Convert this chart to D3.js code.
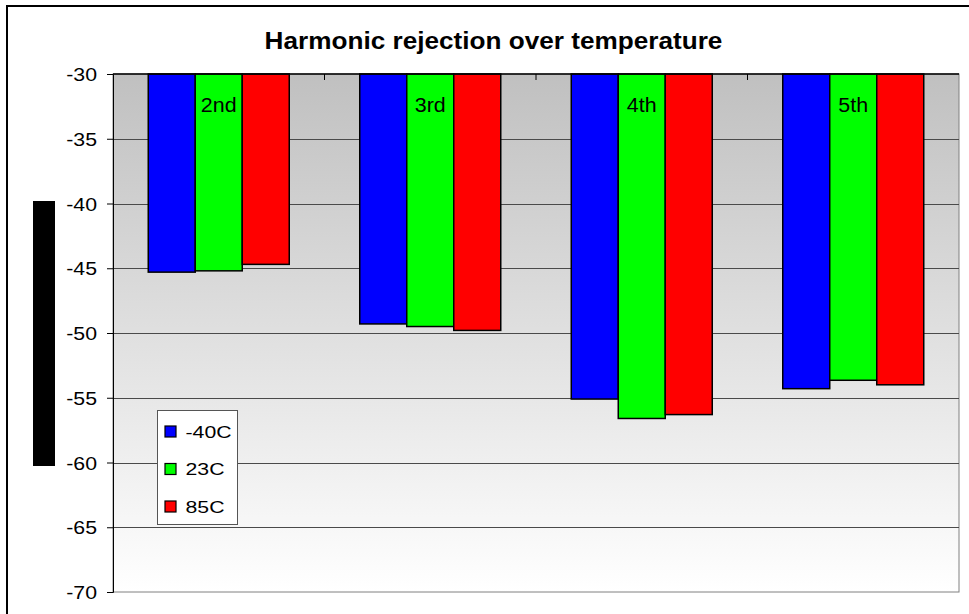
<!DOCTYPE html>
<html>
<head>
	<meta charset="utf-8">
	<script src="https://cdn.jsdelivr.net/npm/d3@7"></script>
	<style>
		html, body { margin: 0; padding: 0; background: white; }
		svg { display: block; font-family: Arial, "Liberation Sans", sans-serif; }
	</style>
</head>
<body>
	<div id="chart"></div>
	<script>
		// data
		var harmonics = ["2nd", "3rd", "4th", "5th"];
		var temps = ["-40C", "23C", "85C"];
		var tempColors = ["#0000ff", "#00ff00", "#ff0000"];
		var rejection = [
			[-45.3, -49.3, -55.1, -54.3],   // -40C
			[-45.2, -49.5, -56.6, -53.65],  // 23C
			[-44.7, -49.8, -56.3, -54.0]    // 85C
		];
		var yTicks = [-30, -35, -40, -45, -50, -55, -60, -65, -70];

		var width = 969, height = 614;
		var plot = {left: 113, right: 959, top: 74, bottom: 592};

		var svg = d3.select("#chart").append("svg")
			.attr("width", width)
			.attr("height", height);

		// the picture is stretched sideways a little, so text is widened to match
		function stretched(sel, x, y, sx) {
			return sel.attr("transform", "translate(" + x + "," + y + ") scale(" + sx + ",1)");
		}

		// outer chart frame
		svg.append("rect")
			.attr("x", 7).attr("y", 6)
			.attr("width", 975).attr("height", 620)
			.attr("fill", "white")
			.attr("stroke", "black").attr("stroke-width", 2);

		var grad = svg.append("defs").append("linearGradient")
			.attr("id", "bg").attr("x1", 0).attr("y1", 0).attr("x2", 0).attr("y2", 1);
		grad.append("stop").attr("offset", "0%").attr("stop-color", "#c0c0c0");
		grad.append("stop").attr("offset", "100%").attr("stop-color", "#ffffff");

		var x = d3.scaleBand().domain(harmonics).range([plot.left, plot.right]);
		var x1 = d3.scaleBand().domain(temps).range([0, x.bandwidth()]).paddingInner(0).paddingOuter(0.75);
		var y = d3.scaleLinear().domain([-30, -70]).range([plot.top, plot.bottom]);

		// plot background
		svg.append("rect")
			.attr("x", plot.left).attr("y", plot.top)
			.attr("width", plot.right - plot.left).attr("height", plot.bottom - plot.top)
			.attr("fill", "url(#bg)")
			.attr("stroke", "#808080").attr("stroke-width", 1);

		// gridlines
		svg.append("g").selectAll("line")
			.data(yTicks.slice(1, -1))
			.enter().append("line")
			.attr("x1", plot.left).attr("x2", plot.right)
			.attr("y1", function(d) { return Math.round(y(d)) + 0.5; })
			.attr("y2", function(d) { return Math.round(y(d)) + 0.5; })
			.attr("stroke", "#4a4a4a").attr("stroke-width", 1);

		// y axis
		var yAxis = svg.append("g")
			.attr("transform", "translate(" + plot.left + ",0)")
			.call(d3.axisLeft(y).tickValues(yTicks).tickSize(6)
				.tickFormat(function(d) { return String(d); }));
		yAxis.select(".domain").attr("stroke", "black");
		yAxis.selectAll("line").attr("stroke", "black");
		yAxis.selectAll("text").each(function() {
			stretched(d3.select(this), -16, 0, 1.15)
				.attr("x", null)
				.attr("dy", "0.36em")
				.attr("font-size", "18.5px")
				.attr("fill", "black")
				.attr("font-family", "Arial, 'Liberation Sans', sans-serif");
		});

		// bars
		var series = svg.append("g").selectAll("g")
			.data(temps)
			.enter().append("g")
			.attr("fill", function(d, i) { return tempColors[i]; });

		series.selectAll("rect")
			.data(function(t, i) { return rejection[i].map(function(v, j) { return {h: harmonics[j], v: v, t: t}; }); })
			.enter().append("rect")
			.attr("x", function(d) { return x(d.h) + x1(d.t); })
			.attr("y", y(-30))
			.attr("width", x1.bandwidth())
			.attr("height", function(d) { return y(d.v) - y(-30); })
			.attr("stroke", "black").attr("stroke-width", 1.5);

		// category axis along the top
		svg.append("line")
			.attr("x1", plot.left).attr("x2", plot.right)
			.attr("y1", plot.top).attr("y2", plot.top)
			.attr("stroke", "black").attr("stroke-width", 1.5);
		svg.append("g").selectAll("line")
			.data(harmonics.slice(1))
			.enter().append("line")
			.attr("x1", function(d) { return x(d); })
			.attr("x2", function(d) { return x(d); })
			.attr("y1", plot.top).attr("y2", plot.top + 6)
			.attr("stroke", "black");
		svg.append("g").selectAll("text")
			.data(harmonics)
			.enter().append("text")
			.each(function(d) { stretched(d3.select(this), x(d) + x.bandwidth() / 2, 112, 1.1); })
			.attr("text-anchor", "middle")
			.attr("font-size", "19.5px")
			.text(function(d) { return d; });

		// title
		stretched(svg.append("text"), 493.5, 49, 1.09)
			.attr("text-anchor", "middle")
			.attr("font-size", "24px")
			.attr("font-weight", "bold")
			.text("Harmonic rejection over temperature");

		// y axis title (rendered as a solid block in the reference)
		svg.append("rect")
			.attr("x", 33).attr("y", 201)
			.attr("width", 22).attr("height", 265)
			.attr("fill", "black");

		// legend
		var legend = svg.append("g").attr("transform", "translate(157,410)");
		legend.append("rect")
			.attr("x", 0.5).attr("y", 0.5)
			.attr("width", 80).attr("height", 114)
			.attr("fill", "white").attr("stroke", "#555");
		var items = legend.selectAll(".item")
			.data(temps)
			.enter().append("g")
			.attr("transform", function(d, i) { return "translate(8," + (21.5 + i * 37.5) + ")"; });
		items.append("rect")
			.attr("x", 0).attr("y", -5.5)
			.attr("width", 11).attr("height", 11)
			.attr("fill", function(d, i) { return tempColors[i]; })
			.attr("stroke", "black").attr("stroke-width", 1.2);
		items.append("text")
			.each(function() { stretched(d3.select(this), 20.5, 6, 1.25); })
			.attr("font-size", "17px")
			.text(function(d) { return d; });
	</script>
</body>
</html>
